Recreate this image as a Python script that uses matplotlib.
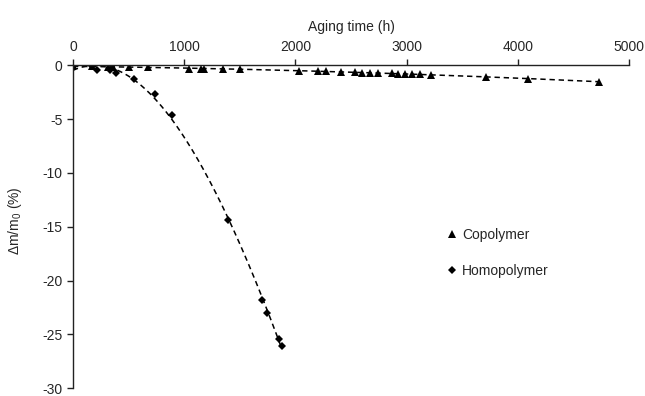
import numpy as np
import matplotlib
matplotlib.use("Agg")
import matplotlib.pyplot as plt

plt.rcParams["font.family"] = ["Liberation Sans", "DejaVu Sans"]
plt.rcParams["mathtext.fontset"] = "custom"
plt.rcParams["mathtext.rm"] = "Liberation Sans"
plt.rcParams["mathtext.it"] = "Liberation Sans"
plt.rcParams["axes.unicode_minus"] = False

# aging time (h) and mass change (%)
co_t = [0, 168, 315, 360, 505, 671, 1045, 1150, 1177, 1345, 1500, 2030, 2204,
        2273, 2414, 2534, 2603, 2675, 2743, 2873, 2923, 2983, 3052, 3118, 3223,
        3717, 4091, 4726]
co_dm = [0, -0.1, -0.15, -0.15, -0.2, -0.2, -0.3, -0.3, -0.32, -0.33, -0.35,
         -0.5, -0.55, -0.57, -0.6, -0.65, -0.67, -0.7, -0.72, -0.75, -0.77,
         -0.78, -0.8, -0.83, -0.87, -1.05, -1.25, -1.55]

homo_t = [0, 168, 216, 330, 383, 545, 737, 892, 1393, 1698, 1749, 1854, 1878]
homo_dm = [0, -0.1, -0.45, -0.4, -0.68, -1.25, -2.7, -4.65, -14.4, -21.85,
           -23.05, -25.45, -26.1]

x_ticks = [0, 1000, 2000, 3000, 4000, 5000]
y_ticks = [0, -5, -10, -15, -20, -25, -30]

txt = "#262626"

fig = plt.figure(figsize=(6.45, 3.96), dpi=100)
ax = fig.add_axes([0.1132, 0.02, 0.862, 0.815])

# trendlines (polynomial fits of the measured points)
co_fit = np.polyfit(co_t, co_dm, 2)
xs = np.linspace(0, max(co_t), 200)
ax.plot(xs, np.polyval(co_fit, xs), color="black", lw=1.1, ls=(0, (3.5, 2.5)))

homo_fit = np.polyfit(homo_t, homo_dm, 3)
xh = np.linspace(0, max(homo_t), 200)
ax.plot(xh, np.polyval(homo_fit, xh), color="black", lw=1.1, ls=(0, (3.5, 2.5)))

ax.plot(co_t, co_dm, ls="none", marker="^", ms=6, mew=0, color="black", label="Copolymer")
ax.plot(homo_t, homo_dm, ls="none", marker="D", ms=4.5, mew=0, color="black", label="Homopolymer")

ax.set_xlim(0, 5000)
ax.set_ylim(-30, 0)
ax.set_xticks(x_ticks)
ax.set_yticks(y_ticks)
ax.xaxis.set_ticks_position("top")
ax.xaxis.set_label_position("top")
ax.spines["right"].set_visible(False)
ax.spines["bottom"].set_visible(False)
ax.spines["top"].set_position(("data", 0))
for s in ["top", "left"]:
    ax.spines[s].set_linewidth(1.0)
    ax.spines[s].set_color("#222222")
ax.tick_params(axis="both", direction="out", length=4, width=1.0,
               labelsize=10, colors="#222222", labelcolor=txt)
ax.tick_params(axis="x", pad=4)
ax.set_xlabel("Aging time (h)", fontsize=10, color=txt, labelpad=7)
ax.set_ylabel(r"$\Delta$m/m$_0$ (%)", fontsize=10, color=txt)
ax.yaxis.set_label_coords(-0.088, 0.518)

ax.legend(loc="center left", bbox_to_anchor=(0.65, 0.419), frameon=False,
          fontsize=10, handlelength=0.8, handletextpad=0.3, labelspacing=1.6,
          labelcolor=txt)

fig.savefig("out.png", dpi=100)
